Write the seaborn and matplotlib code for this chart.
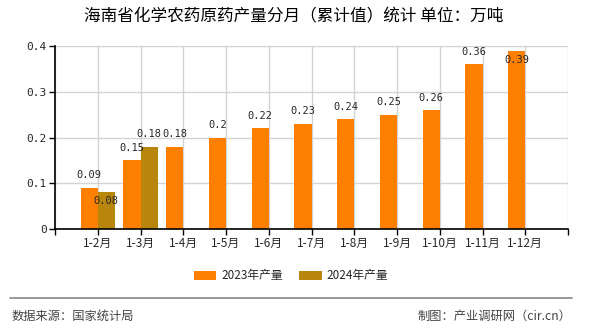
import matplotlib
matplotlib.use("Agg")
import matplotlib.pyplot as plt
from matplotlib.lines import Line2D
import seaborn as sns
import pandas as pd
import numpy as np

# Monthly cumulative output (10k tonnes)
months = ["1-2月", "1-3月", "1-4月", "1-5月", "1-6月", "1-7月",
          "1-8月", "1-9月", "1-10月", "1-11月", "1-12月"]
output_2023 = [0.09, 0.15, 0.18, 0.2, 0.22, 0.23, 0.24, 0.25, 0.26, 0.36, 0.39]
output_2024 = [0.08, 0.18, None, None, None, None, None, None, None, None, None]
series_names = ["2023年产量", "2024年产量"]
value_labels_2023 = ["0.09", "0.15", "0.18", "0.2", "0.22", "0.23", "0.24",
                     "0.25", "0.26", "0.36", "0.39"]
value_labels_2024 = ["0.08", "0.18"]
y_ticks = [0, 0.1, 0.2, 0.3, 0.4]
y_tick_labels = ["0", "0.1", "0.2", "0.3", "0.4"]

title = "海南省化学农药原药产量分月（累计值）统计 单位：万吨"
source_text = "数据来源：国家统计局"
credit_text = "制图：产业调研网（cir.cn）"

colors = ["#FF8000", "#B8860B"]

sns.set_style("white")
plt.rcParams["font.family"] = ["Noto Sans CJK SC", "DejaVu Sans"]

rows = []
for m, v in zip(months, output_2023):
    rows.append({"month": m, "year": series_names[0], "value": v})
for m, v in zip(months, output_2024):
    rows.append({"month": m, "year": series_names[1], "value": v})
df = pd.DataFrame(rows)

fig = plt.figure(figsize=(5.9, 3.3), dpi=100)
ax = fig.add_axes([55 / 590, 1 - 229 / 330, (568 - 55) / 590, (229 - 46) / 330])

sns.barplot(data=df, x="month", y="value", hue="year", order=months,
            hue_order=series_names, palette=colors, width=0.8,
            saturation=1, ax=ax, legend=False, errorbar=None, linewidth=0)

ax.set_xlim(-1, len(months))
ax.set_ylim(0, 0.4)
ax.set_xticks(np.arange(-1, len(months) + 1))
ax.set_xticklabels([""] + months + [""], fontsize=8.5)
ax.set_yticks(y_ticks)
ax.set_yticklabels(y_tick_labels, family="DejaVu Sans Mono", fontsize=8)
ax.set_xlabel("")
ax.set_ylabel("")

ax.grid(True, color="#D3D3D3", linewidth=1)
ax.set_axisbelow(True)
for side in ["top", "right"]:
    ax.spines[side].set_visible(False)
for side in ["left", "bottom"]:
    ax.spines[side].set_color("black")
    ax.spines[side].set_linewidth(1.2)
ax.tick_params(axis="both", which="both", length=4, width=1, color="black",
               pad=2, bottom=True, left=True)

# Value labels: above the bar top, or just below it where space is tight
below_2023 = {10}
below_2024 = {0}
for i, (v, t) in enumerate(zip(output_2023, value_labels_2023)):
    dy = -7 if i in below_2023 else 9
    ax.annotate(t, (i - 0.2, v), xytext=(0, dy), textcoords="offset points",
                ha="center", va="center", fontsize=7.5,
                family="DejaVu Sans Mono", annotation_clip=False)
for i, t in enumerate(value_labels_2024):
    v = output_2024[i]
    dy = -6.5 if i in below_2024 else 9
    ax.annotate(t, (i + 0.2, v), xytext=(0, dy), textcoords="offset points",
                ha="center", va="center", fontsize=7.5,
                family="DejaVu Sans Mono", annotation_clip=False)

fig.text(294 / 590, 1 - 17 / 330, title, ha="center", va="center",
         fontsize=12, color="#000000")

handles = [plt.Rectangle((0, 0), 1, 1, facecolor=c, edgecolor="none") for c in colors]
fig.legend(handles, series_names, loc="center", bbox_to_anchor=(291 / 590, 1 - 276 / 330),
           ncol=2, frameon=False, fontsize=8.5, handlelength=1.9, handleheight=0.7,
           handletextpad=0.4, columnspacing=1.4, borderpad=0)

fig.add_artist(Line2D([10 / 590, 572 / 590], [1 - 298 / 330, 1 - 298 / 330],
                      transform=fig.transFigure, color="#888888", linewidth=1.2))
fig.text(12 / 590, 1 - 316 / 330, source_text, ha="left", va="center",
         fontsize=8.8, color="#444444")
fig.text(571 / 590, 1 - 316 / 330, credit_text, ha="right", va="center",
         fontsize=8.8, color="#444444")

fig.savefig("out.png", dpi=100)
